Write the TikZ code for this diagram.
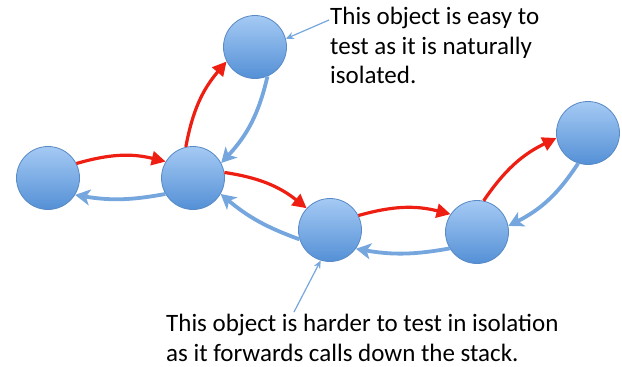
\documentclass[tikz,border=0pt]{standalone}
\usepackage{fontspec}
\setmainfont{Carlito}
\usepackage{xcolor}
\usepackage{tikz}
\usetikzlibrary{arrows.meta,positioning}

\definecolor{objtop}{RGB}{165,202,244}
\definecolor{objbot}{RGB}{84,144,214}
\definecolor{objline}{RGB}{88,138,198}
\definecolor{callred}{RGB}{238,30,18}
\definecolor{retblue}{RGB}{118,166,222}

\begin{document}
\begin{tikzpicture}[x=1pt, y=-1pt,
    obj/.style={circle, minimum size=63pt, inner sep=0pt, draw=objline, line width=0.8pt, top color=objtop, bottom color=objbot},
    call/.style={-{Triangle[length=14pt,width=14pt]}, draw=callred, line width=3.2pt},
    ret/.style={-{Stealth[length=15pt,width=16pt,inset=4pt]}, draw=retblue, line width=3.8pt},
    note/.style={align=left, inner sep=0pt, font=\fontsize{25}{29.5}\selectfont},
    pointer/.style={-{Stealth[length=8pt,width=7pt]}, draw=retblue, line width=1.2pt}]
    \useasboundingbox (0,0) rectangle (622,367);

    % Objects
    \node[obj] (caller) at (48,178) {};
    \node[obj] (hub) at (193,178) {};
    \node[obj] (leaf) at (255,47) {};
    \node[obj] (fwd) at (330,230) {};
    \node[obj] (inner) at (477,232) {};
    \node[obj] (tip) at (588,133) {};

    % Calls (red)
    \draw[call] (caller.27) to[bend left=15] (hub.149);
    \draw[call] (hub.103) to[bend left=15] (leaf.207);
    \draw[call] (hub.10) to[bend left=15] (fwd.137);
    \draw[call] (fwd.27) to[bend left=15] (inner.146);
    \draw[call] (inner.78) to[bend left=15] (tip.189);

    % Returns (blue)
    \draw[ret] (hub.210) to[bend left=10] (caller.-32);
    \draw[ret] (leaf.-67) to[bend left=15] (hub.28);
    \draw[ret] (fwd.197) to[bend left=10] (hub.-30);
    \draw[ret] (inner.211) to[bend left=10] (fwd.-36);
    \draw[ret] (tip.-108) to[bend left=15] (inner.11);

    % Notes
    \node[note, anchor=north west] (easy) at (330,7) {This object is easy to\\test as it is naturally\\isolated.};
    \node[note, anchor=north west] (hard) at (166,314) {This object is harder to test in isolation\\as it forwards calls down the stack.};
    \coordinate (easyfrom) at (329,20);
    \coordinate (hardfrom) at (294,312);
    \draw[pointer] (easyfrom) -- (leaf.15);
    \draw[pointer] (hardfrom) -- (fwd.-107);
\end{tikzpicture}
\end{document}
